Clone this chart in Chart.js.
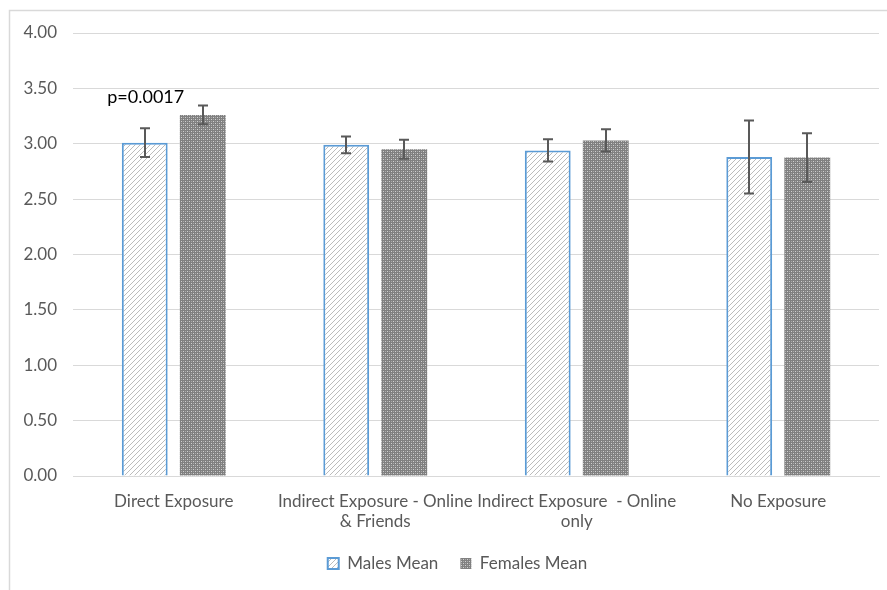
<!DOCTYPE html>
<html>
<head>
<meta charset="utf-8">
<script src="https://cdn.jsdelivr.net/npm/chart.js@4.4.1/dist/chart.umd.min.js"></script>
<style>
html,body{margin:0;padding:0;background:#fff;}
#wrap{position:relative;width:887px;height:590px;}
</style>
</head>
<body>
<div id="wrap"><canvas id="c" width="887" height="590"></canvas></div>
<script>
const categories = [
  "Direct Exposure",
  ["Indirect Exposure - Online", "& Friends"],
  ["Indirect Exposure  - Online", "only"],
  "No Exposure"
];
const malesMean = [3.01, 2.99, 2.94, 2.88];
const malesErr = [0.13, 0.075, 0.10, 0.33];
const femalesMean = [3.26, 2.95, 3.03, 2.875];
const femalesErr = [0.085, 0.085, 0.10, 0.22];
const seriesNames = ["Males Mean", "Females Mean"];
const annotationText = "p=0.0017";

const FONT = 'Lato, "Open Sans", sans-serif';

function makeMalePattern() {
  const c = document.createElement('canvas');
  c.width = 5; c.height = 5;
  const g = c.getContext('2d');
  g.fillStyle = '#ffffff';
  g.fillRect(0, 0, 5, 5);
  g.fillStyle = '#bcbcbc';
  for (let i = 0; i < 5; i++) {
    g.fillRect(i, 4 - i, 1, 1);
  }
  const ctx = document.getElementById('c').getContext('2d');
  return ctx.createPattern(c, 'repeat');
}
function makeFemalePattern() {
  const c = document.createElement('canvas');
  c.width = 4; c.height = 4;
  const g = c.getContext('2d');
  g.fillStyle = '#808080';
  g.fillRect(0, 0, 4, 4);
  g.fillStyle = '#d0d0d0';
  g.fillRect(1, 1, 1, 1);
  g.fillRect(3, 3, 1, 1);
  g.fillStyle = '#a8a8a8';
  g.fillRect(3, 1, 1, 1);
  g.fillRect(1, 3, 1, 1);
  const ctx = document.getElementById('c').getContext('2d');
  return ctx.createPattern(c, 'repeat');
}

const errorBars = {
  id: 'errorBars',
  afterDatasetsDraw(chart) {
    const ctx = chart.ctx;
    const errs = [malesErr, femalesErr];
    const ys = chart.scales.y;
    ctx.save();
    ctx.strokeStyle = '#595959';
    ctx.lineWidth = 2;
    chart.data.datasets.forEach((ds, di) => {
      const meta = chart.getDatasetMeta(di);
      meta.data.forEach((bar, i) => {
        const v = ds.data[i];
        const e = errs[di][i];
        const x = Math.round(bar.x);
        const yt = ys.getPixelForValue(v + e);
        const yb = ys.getPixelForValue(v - e);
        ctx.beginPath();
        ctx.moveTo(x, yt); ctx.lineTo(x, yb);
        ctx.moveTo(x - 5, yt); ctx.lineTo(x + 5, yt);
        ctx.moveTo(x - 5, yb); ctx.lineTo(x + 5, yb);
        ctx.stroke();
      });
    });
    ctx.restore();
  }
};

const annot = {
  id: 'annot',
  afterDatasetsDraw(chart) {
    const ctx = chart.ctx;
    const xs = chart.scales.x, ys = chart.scales.y;
    ctx.save();
    ctx.fillStyle = '#000000';
    ctx.font = '18px ' + FONT;
    ctx.textAlign = 'center';
    ctx.textBaseline = 'middle';
    ctx.fillText(annotationText, xs.getPixelForValue(0) - 28, ys.getPixelForValue(3.42));
    ctx.restore();
  }
};

const frame = {
  id: 'frame',
  beforeDraw(chart) {
    const ctx = chart.ctx;
    ctx.save();
    ctx.fillStyle = '#ffffff';
    ctx.fillRect(0, 0, chart.width, chart.height);
    ctx.strokeStyle = '#d9d9d9';
    ctx.lineWidth = 1.5;
    ctx.strokeRect(9.5, 10.5, chart.width + 20, chart.height + 20);
    ctx.restore();
  }
};

const legendShift = {
  id: 'legendShift',
  afterLayout(chart) {
    if (chart.legend) {
      chart.legend.left += 18;
      chart.legend.right += 18;
    }
  }
};

new Chart(document.getElementById('c'), {
  type: 'bar',
  data: {
    labels: categories,
    datasets: [
      {
        label: seriesNames[0],
        data: malesMean,
        backgroundColor: makeMalePattern(),
        borderColor: '#5b9bd5',
        borderWidth: 2,
        barPercentage: 0.79,
        categoryPercentage: 0.576
      },
      {
        label: seriesNames[1],
        data: femalesMean,
        backgroundColor: makeFemalePattern(),
        borderColor: 'rgba(0,0,0,0)',
        borderWidth: 0,
        barPercentage: 0.79,
        categoryPercentage: 0.576
      }
    ]
  },
  options: {
    responsive: false,
    animation: false,
    devicePixelRatio: 1,
    layout: { padding: { top: 33, right: 8, bottom: 8, left: 0 } },
    plugins: {
      legend: {
        position: 'bottom',
        labels: {
          boxWidth: 11,
          boxHeight: 11,
          color: '#595959',
          font: { family: FONT, size: 17 },
          padding: 22
        }
      },
      tooltip: { enabled: false }
    },
    scales: {
      x: {
        grid: { display: false, drawTicks: false },
        border: { display: true, color: '#d9d9d9', width: 1 },
        ticks: {
          color: '#595959',
          font: { family: FONT, size: 17 },
          padding: 15,
          maxRotation: 0,
          autoSkip: false
        },
        afterFit(scale) { scale.height = 57; }
      },
      y: {
        min: 0, max: 4,
        grid: { color: '#d9d9d9', lineWidth: 1, drawTicks: false },
        border: { display: false },
        ticks: {
          stepSize: 0.5,
          color: '#595959',
          font: { family: FONT, size: 17 },
          padding: 16,
          callback: (v) => Number(v).toFixed(2)
        },
        afterFit(scale) { scale.width = 73; }
      }
    }
  },
  plugins: [frame, legendShift, errorBars, annot]
});
</script>
</body>
</html>
